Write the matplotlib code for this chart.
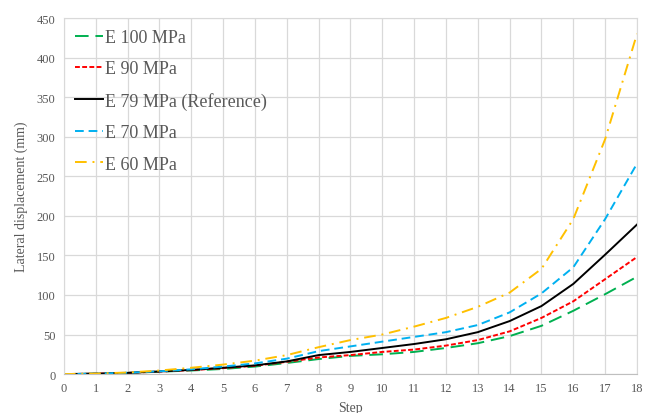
import matplotlib
matplotlib.use("Agg")
from matplotlib import pyplot as plt

steps = list(range(19))

e100 = [0, 0.5, 1.5, 3, 4.5, 6.5, 9.5, 14, 19, 23, 25, 28, 33, 39, 48, 61, 80, 101, 123]
e90 = [0, 0.5, 1.5, 3.2, 5, 7.5, 10.5, 15.5, 21, 24, 28, 31, 36, 43, 54, 71, 92, 120, 148]
e79 = [0, 0.5, 1.5, 3.3, 5.3, 8, 11, 16, 24, 28, 33, 38, 44, 53, 67, 86, 114, 151, 189]
e70 = [0, 0.5, 1.7, 3.5, 6, 9.5, 13.5, 19.5, 29, 35, 41, 47, 53, 62, 78, 102, 135, 196, 266]
e60 = [0, 0.6, 2, 4.5, 8, 12, 17, 24, 34, 43, 50, 60, 71, 85, 103, 133, 196, 297, 430]

labels = ["E 100 MPa", "E 90 MPa", "E 79 MPa (Reference)", "E 70 MPa", "E 60 MPa"]
colors = ["#00b050", "#ff0000", "#000000", "#00b0f0", "#ffc000"]
dashes = [(7, 3.5), (2.5, 1.2), (), (4.5, 2.5), (6, 3, 1, 3)]

plt.rcParams['font.family'] = ['Liberation Serif', 'DejaVu Serif']
GREY = '#595959'

fig = plt.figure(figsize=(6.52, 4.14), dpi=100)
ax = fig.add_axes([0.098, 0.094, 0.879, 0.86])

for vals, lab, col, d in zip([e100, e90, e79, e70, e60], labels, colors, dashes):
    line, = ax.plot(steps, vals, color=col, lw=1.4, label=lab)
    if d:
        line.set_dashes(d)

ax.set_xlim(0, 18)
ax.set_ylim(0, 450)
ax.set_xticks(range(0, 19))
ax.set_yticks(range(0, 451, 50))
ax.grid(True, color='#d9d9d9', lw=0.9)
ax.set_axisbelow(True)
for s in ax.spines.values():
    s.set_color('#d9d9d9')
ax.spines['bottom'].set_color('#bfbfbf')
ax.tick_params(length=0, labelsize=9, colors=GREY, pad=6)

ax.set_xlabel('Step', fontsize=10, color=GREY, labelpad=5)
ax.set_ylabel('Lateral displacement (mm)', fontsize=10, color=GREY, labelpad=6)

leg = ax.legend(loc='upper left', frameon=False, fontsize=13, handlelength=1.55,
                handletextpad=0.15, labelspacing=0.8, borderaxespad=0.2)
for t in leg.get_texts():
    t.set_color(GREY)

fig.savefig('out.png', dpi=100)
